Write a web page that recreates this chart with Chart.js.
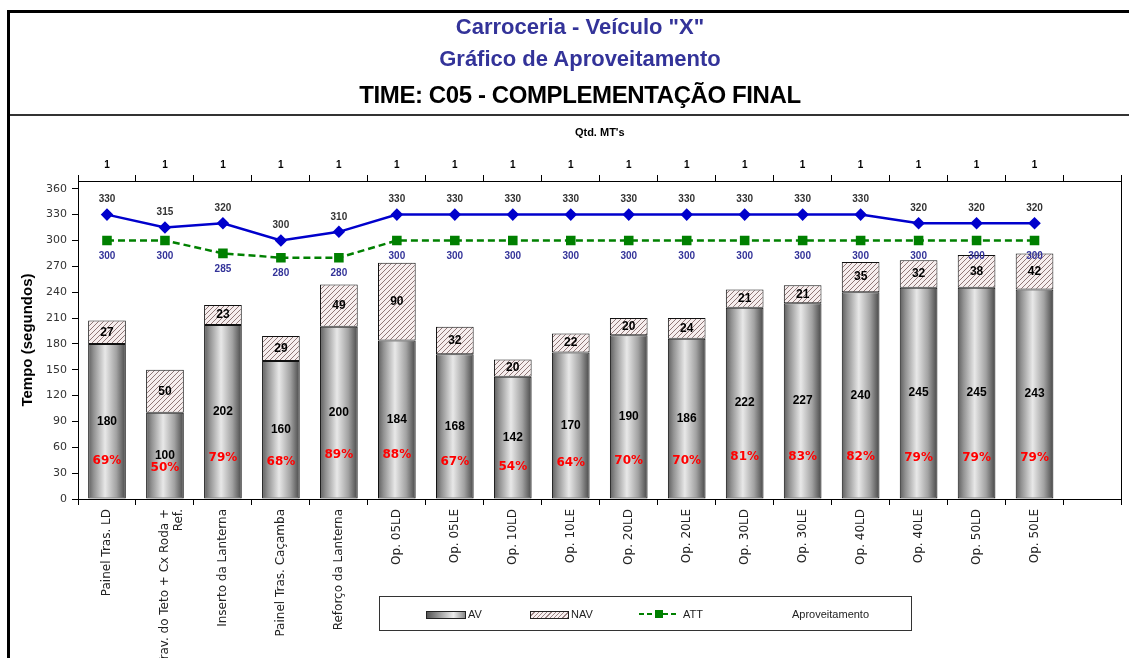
<!DOCTYPE html>
<html>
<head>
<meta charset="utf-8">
<script src="https://cdn.jsdelivr.net/npm/chart.js@4"></script>
<style>
body{margin:0;background:#fff;font-family:"Liberation Sans",Arial,sans-serif;overflow:hidden;}
#wrap{position:absolute;left:0;top:0;width:1129px;height:658px;}
#frame{position:absolute;left:7px;top:10px;width:1200px;height:700px;border-left:3px solid #000;border-top:3px solid #000;}
.t{position:absolute;left:0;width:1160px;text-align:center;font-weight:bold;white-space:nowrap;line-height:26px;}
#t1{top:14px;font-size:22px;color:#333399;}
#t2{top:46px;font-size:22px;color:#333399;}
#t3{top:82px;font-size:24px;color:#000;letter-spacing:-0.4px;}
#sep{position:absolute;left:10px;top:114px;width:1119px;border-top:2px solid #333;}
#legend{position:absolute;left:379px;top:596px;width:531px;height:33px;border:1.5px solid #333;font-size:11px;color:#222;}
#legend span{position:absolute;top:11px;}
.sw{position:absolute;top:14px;height:6px;border:1px solid #222;}
</style>
</head>
<body>
<div id="wrap"><canvas id="chart"></canvas></div>
<div id="frame"></div>
<div class="t" id="t1">Carroceria - Veículo "X"</div>
<div class="t" id="t2">Gráfico de Aproveitamento</div>
<div class="t" id="t3">TIME: C05 - COMPLEMENTAÇÃO FINAL</div>
<div id="sep"></div>
<div id="legend">
  <div class="sw" style="left:46px;width:38px;background:linear-gradient(90deg,#555,#eee 70%,#888)"></div>
  <span style="left:88px">AV</span>
  <div class="sw" style="left:150px;width:37px;background:repeating-linear-gradient(135deg,#f7f0f0 0 2px,#9b8585 2px 3px)"></div>
  <span style="left:191px">NAV</span>
  <svg style="position:absolute;left:259px;top:10px" width="40" height="14"><line x1="0" y1="7" x2="40" y2="7" stroke="#008000" stroke-width="2" stroke-dasharray="5,3"/><rect x="16" y="3" width="8" height="8" fill="#008000"/></svg>
  <span style="left:303px">ATT</span>
  <span style="left:412px">Aproveitamento</span>
</div>
<script>
// categorias (última posição vazia, como no original)
const categories = ['Painel Tras. LD', ['Trav. do Teto + Cx Roda +', 'Ref.'], 'Inserto da Lanterna',
  'Painel Tras. Caçamba', 'Reforço da Lanterna', 'Op. 05LD', 'Op. 05LE', 'Op. 10LD', 'Op. 10LE',
  'Op. 20LD', 'Op. 20LE', 'Op. 30LD', 'Op. 30LE', 'Op. 40LD', 'Op. 40LE', 'Op. 50LD', 'Op. 50LE', ''];
const qtdMT = ['1','1','1','1','1','1','1','1','1','1','1','1','1','1','1','1','1',''];

const avValues  = [180, 100, 202, 160, 200, 184, 168, 142, 170, 190, 186, 222, 227, 240, 245, 245, 243];
const navValues = [27, 50, 23, 29, 49, 90, 32, 20, 22, 20, 24, 21, 21, 35, 32, 38, 42];
const tempoValues = [330, 315, 320, 300, 310, 330, 330, 330, 330, 330, 330, 330, 330, 330, 320, 320, 320];
const attValues = [300, 300, 285, 280, 280, 300, 300, 300, 300, 300, 300, 300, 300, 300, 300, 300, 300];
const aproveitamento = [69, 50, 79, 68, 89, 88, 67, 54, 64, 70, 70, 81, 83, 82, 79, 79, 79];
const yTicks = [0, 30, 60, 90, 120, 150, 180, 210, 240, 270, 300, 330, 360];

const canvas = document.getElementById('chart');

//hatch for NAV
function makeHatch(){
    const c = document.createElement('canvas');
    c.width = 5; c.height = 5;
    const g = c.getContext('2d');
    g.fillStyle = '#f6eeee';
    g.fillRect(0, 0, 5, 5);
    g.strokeStyle = '#8f7676';
    g.lineWidth = 1;
    g.beginPath();
    g.moveTo(0, 5); g.lineTo(5, 0);
    g.moveTo(-1, 1); g.lineTo(1, -1);
    g.moveTo(4, 6); g.lineTo(6, 4);
    g.stroke();
    return canvas.getContext('2d').createPattern(c, 'repeat');
}
const hatch = makeHatch();

//cylinder-ish gradient for AV
function avFill(ctx){
    const chart = ctx.chart;
    const xs = chart.scales.x;
    if (!xs || ctx.type !== 'data') return '#999';
    const cx = xs.getPixelForValue(ctx.dataIndex);
    const w = xs.width / categories.length * 0.65;
    if (!isFinite(cx) || !isFinite(w) || w <= 0) return '#999';
    const g = chart.ctx.createLinearGradient(cx - w / 2, 0, cx + w / 2, 0);
    g.addColorStop(0, '#5e5e5e');
    g.addColorStop(0.15, '#929292');
    g.addColorStop(0.45, '#e8e8e8');
    g.addColorStop(0.75, '#a2a2a2');
    g.addColorStop(1, '#474747');
    return g;
}

const valueLabels = {
    id: 'valueLabels',
    afterDatasetsDraw(chart){
        const c = chart.ctx;
        const av = chart.getDatasetMeta(0), nav = chart.getDatasetMeta(1);
        const tp = chart.getDatasetMeta(2), att = chart.getDatasetMeta(3), ap = chart.getDatasetMeta(4);
        c.save();
        c.textAlign = 'center';
        c.textBaseline = 'middle';
        c.fillStyle = '#000';
        c.font = 'bold 12px "Liberation Sans"';
        av.data.forEach((b, i) => c.fillText(avValues[i], b.x, (b.y + b.base) / 2));
        nav.data.forEach((b, i) => c.fillText(navValues[i], b.x, (b.y + b.base) / 2));
        c.font = 'bold 10px "Liberation Sans"';
        c.fillStyle = '#333';
        tp.data.forEach((p, i) => c.fillText(tempoValues[i], p.x, p.y - 15));
        c.fillStyle = '#333399';
        att.data.forEach((p, i) => c.fillText(attValues[i], p.x, p.y + 16));
        c.font = 'bold 12px "DejaVu Sans"';
        c.fillStyle = '#ff0000';
        ap.data.forEach((p, i) => c.fillText(aproveitamento[i] + '%', p.x, p.y));
        c.restore();
    }
};

const axisFont = {family: 'DejaVu Sans', size: 11};

new Chart(canvas, {
type: 'bar',
data: {
    labels: categories,
    datasets: [{
        label: 'AV',
        data: avValues,
        backgroundColor: avFill,
        borderColor: '#111',
        borderWidth: 1,
        borderSkipped: false,
        stack: 'tempo',
        barPercentage: 0.65,
        categoryPercentage: 1,
        order: 3
    }, {
        label: 'NAV',
        data: navValues,
        backgroundColor: hatch,
        borderColor: '#111',
        borderWidth: 1,
        borderSkipped: false,
        stack: 'tempo',
        barPercentage: 0.65,
        categoryPercentage: 1,
        order: 3
    }, {
        type: 'line',
        label: 'Tempo',
        data: tempoValues,
        borderColor: '#0000cc',
        backgroundColor: '#0000cc',
        borderWidth: 2.5,
        pointStyle: 'rectRot',
        pointRadius: 4.5,
        stack: 'linha1',
        order: 1
    }, {
        type: 'line',
        label: 'ATT',
        data: attValues,
        borderColor: '#008000',
        backgroundColor: '#008000',
        borderWidth: 2.5,
        borderDash: [7, 4],
        pointStyle: 'rect',
        pointRadius: 5,
        stack: 'linha2',
        order: 2
    }, {
        type: 'line',
        label: 'Aproveitamento',
        data: aproveitamento,
        yAxisID: 'y2',
        showLine: false,
        pointRadius: 0,
        order: 0
    }]
},
plugins: [valueLabels],
options: {
    responsive: true,
    maintainAspectRatio: false,
    animation: false,
    layout: {padding: {top: 118, left: 15, right: 7, bottom: 0}},
    plugins: {legend: {display: false}, tooltip: {enabled: false}},
    scales: {
        x: {
            stacked: true,
            offset: true,
            grid: {display: true, drawOnChartArea: false, offset: true, tickLength: 6, color: '#000'},
            border: {display: true, color: '#000', width: 1},
            ticks: {minRotation: 90, maxRotation: 90, autoSkip: false,
                font: {family: 'DejaVu Sans', size: 12}, color: '#222', padding: 4},
            afterFit: s => { s.height = 159; }
        },
        x2: {
            type: 'category',
            labels: qtdMT,
            position: 'top',
            offset: true,
            grid: {display: true, drawOnChartArea: false, offset: true, tickLength: 6, color: '#000'},
            border: {display: true, color: '#000', width: 1},
            ticks: {font: {family: 'Liberation Sans', size: 10, weight: 'bold'}, color: '#000', padding: 4},
            title: {display: true, text: "Qtd. MT's", color: '#000',
                font: {family: 'Liberation Sans', size: 11, weight: 'bold'}, padding: {top: 8, bottom: 0}},
            afterFit: s => { s.height = 63; }
        },
        y: {
            stacked: true,
            min: 0,
            max: 369,
            afterBuildTicks: s => { s.ticks = yTicks.map(v => ({value: v})); },
            grid: {display: true, drawOnChartArea: false, tickLength: 6, color: '#000'},
            border: {display: true, color: '#000', width: 1},
            ticks: {font: axisFont, color: '#333', padding: 5},
            title: {display: true, text: 'Tempo (segundos)', color: '#000',
                font: {family: 'Liberation Sans', size: 15, weight: 'bold'}},
            afterFit: s => { s.width = 63; }
        },
        y2: {
            position: 'right',
            min: -40,
            max: 880,
            grid: {display: false},
            ticks: {display: false},
            border: {display: true, color: '#000', width: 1},
            afterFit: s => { s.width = 0; }
        }
    }
}
});
</script>
</body>
</html>
